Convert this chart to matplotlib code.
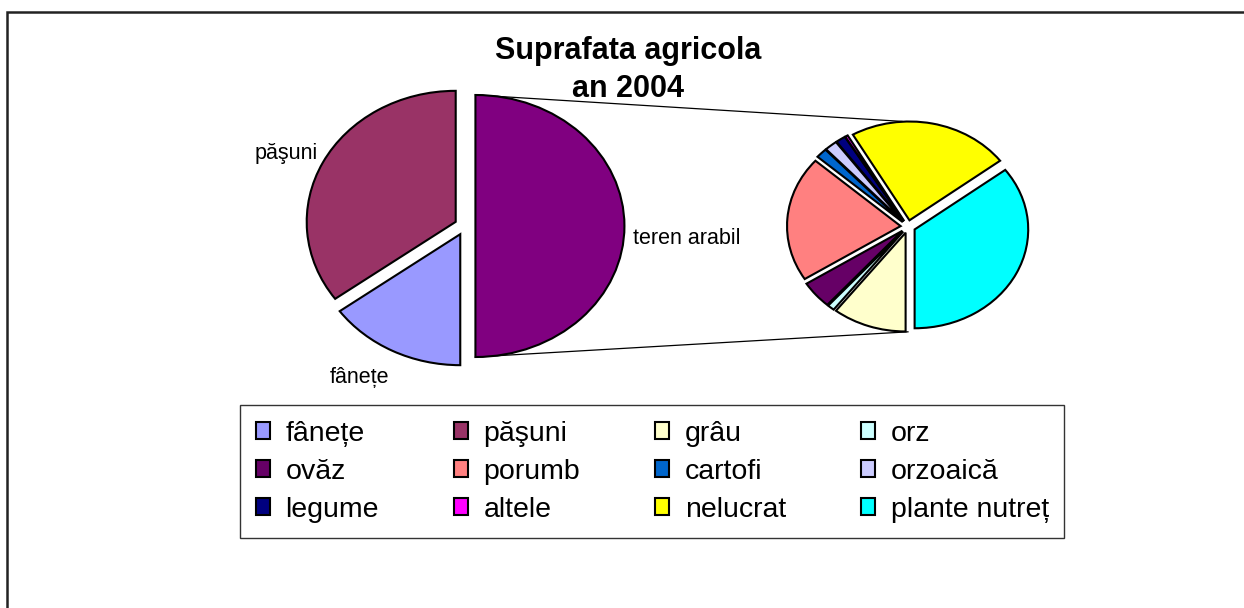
import matplotlib
matplotlib.use("Agg")
import matplotlib.pyplot as plt
import numpy as np

plt.rcParams['font.family'] = ['Liberation Sans', 'DejaVu Sans']

# ---------------- data ----------------
title = "Suprafata agricola\nan 2004"

main_categories = ['fânețe', 'păşuni', 'teren arabil']
main_values = [15, 35, 50]
main_colors = ['#9999FF', '#993366', '#800080']

sec_categories = ['grâu', 'orz', 'ovăz', 'porumb', 'cartofi', 'orzoaică',
                  'legume', 'altele', 'nelucrat', 'plante nutreț']
sec_values = [10.5, 1.0, 4.5, 20.5, 1.6, 1.8, 1.4, 0.4, 23.0, 35.3]
sec_colors = ['#FFFFCC', '#CCFFFF', '#660066', '#FF8080', '#0066CC', '#CCCCFF',
              '#000080', '#FF00FF', '#FFFF00', '#00FFFF']

# ---------------- layout ----------------
W, H = 1244, 608
fig = plt.figure(figsize=(W / 100, H / 100), dpi=100)

bg = fig.add_axes([0, 0, 1, 1])
bg.set_xlim(0, W)
bg.set_ylim(H, 0)
bg.axis('off')

# chart border (top + left visible)
bg.plot([7, 7, W + 5], [H + 5, 12, 12], color='#222222', lw=1.8, solid_joinstyle='miter')

L = 1.3


def pie_axes(cx, cy, rx, ry):
    ax = fig.add_axes([(cx - L * rx) / W, 1 - (cy + L * ry) / H,
                       2 * L * rx / W, 2 * L * ry / H])
    return ax


def finish(ax):
    ax.set_aspect('auto')
    ax.set_xlim(-L, L)
    ax.set_ylim(-L, L)
    ax.axis('off')


wedgeprops = dict(edgecolor='black', linewidth=1.5)

# main pie (clockwise from top: teren arabil, fânețe, păşuni)
m_cx, m_cy, m_rx, m_ry, m_ex = 465, 226, 149, 131, 0.07
order = [2, 0, 1]
ax1 = pie_axes(m_cx, m_cy, m_rx, m_ry)
w1, _ = ax1.pie([main_values[i] for i in order],
                colors=[main_colors[i] for i in order],
                startangle=90, counterclock=False,
                explode=[m_ex] * 3, wedgeprops=wedgeprops)
finish(ax1)
main_wedges = {main_categories[i]: w for i, w in zip(order, w1)}

# secondary pie (breakdown of teren arabil)
s_cx, s_cy, s_rx, s_ry, s_ex = 908, 226.6, 113.6, 98.8, 0.065
ax2 = pie_axes(s_cx, s_cy, s_rx, s_ry)
w2, _ = ax2.pie(sec_values, colors=sec_colors, startangle=-90,
                counterclock=False, explode=[s_ex] * len(sec_values),
                wedgeprops=wedgeprops)
finish(ax2)

# connector lines
x0 = m_cx + m_ex * m_rx
bg.plot([x0, s_cx - 6], [m_cy - m_ry, s_cy - s_ry * (1 + s_ex)], color='black', lw=0.9)
bg.plot([x0, s_cx], [m_cy + m_ry, s_cy + s_ry * (1 + s_ex)], color='black', lw=0.9)

# data labels
lab_fs = 15.5
bg.text(318, 153, main_categories[1], ha='right', va='center', fontsize=lab_fs)
bg.text(633, 238, main_categories[2], ha='left', va='center', fontsize=lab_fs)
bg.text(360, 377, main_categories[0], ha='center', va='center', fontsize=lab_fs)

# title
bg.text(628, 70, title, ha='center', va='center', fontsize=22,
        fontweight='bold', linespacing=1.32)

# legend (row-major display in 4 columns)
leg_labels = main_categories[:2] + sec_categories
leg_handles = [main_wedges[c] for c in main_categories[:2]] + list(w2)
ncol = 4
nrow = int(np.ceil(len(leg_labels) / ncol))
idx = [r * ncol + c for c in range(ncol) for r in range(nrow)]
leg = fig.legend([leg_handles[i] for i in idx], [leg_labels[i] for i in idx],
                 loc='upper left', bbox_to_anchor=(240 / W, 1 - 405 / H),
                 ncol=ncol, fontsize=20.5, frameon=True, fancybox=False,
                 edgecolor='black', borderaxespad=0, borderpad=0.55,
                 handlelength=0.5, handleheight=0.5, handletextpad=0.55,
                 columnspacing=2.62, labelspacing=0.42)
leg.get_frame().set_linewidth(1.0)

fig.savefig('out.png', dpi=100)
